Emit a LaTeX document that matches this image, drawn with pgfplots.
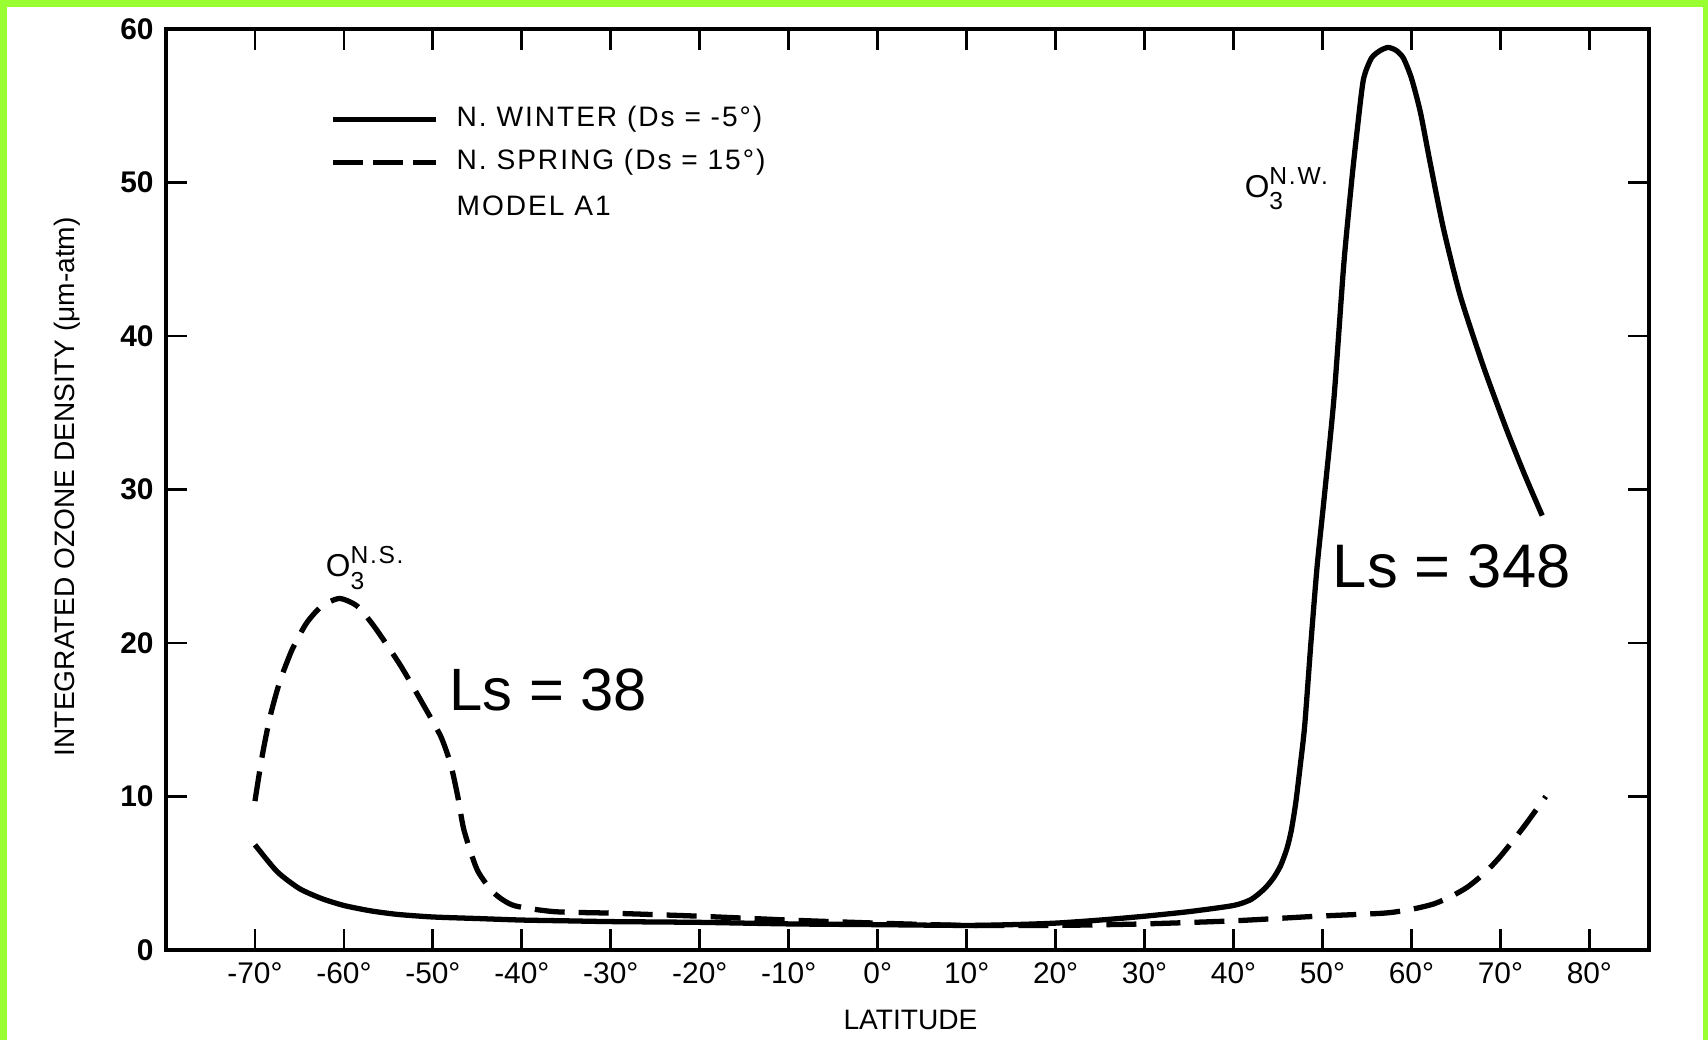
\documentclass[border=0pt]{standalone}
\usepackage{fontspec}
\setmainfont{Liberation Sans}
\newfontfamily\spaced[LetterSpace=7]{Liberation Sans}
\usepackage{pgfplots}
\pgfplotsset{compat=1.18}

\definecolor{framegreen}{RGB}{153,255,51}

\begin{document}
\begin{tikzpicture}
% scanned page background with green frame (left, top, right only)
\fill[white] (-1.66,-0.90) rectangle (15.42,9.50);
\fill[framegreen] (-1.66,-0.90) rectangle (-1.59,9.50);
\fill[framegreen] (-1.66,9.43) rectangle (15.42,9.50);
\fill[framegreen] (15.37,-0.90) rectangle (15.42,9.50);

\begin{axis}[
    at={(0,0)}, anchor=south west,
    scale only axis,
    width=14.83cm, height=9.21cm,
    xmin=-80, xmax=86.7,
    ymin=0, ymax=60,
    axis line style={line width=1.1pt},
    tick align=inside,
    tick pos=both,
    ticklabel pos=left,
    major tick length=0.21cm,
    tick style={line width=0.8pt, black},
    xtick={-70,-60,...,80},
    xticklabels={-70°,-60°,-50°,-40°,-30°,-20°,-10°,0°,10°,20°,30°,40°,50°,60°,70°,80°},
    ytick={0,10,...,60},
    /pgf/number format/assume math mode=true,
    xticklabel style={font=\fontsize{8.5}{9}\selectfont},
    yticklabel style={font=\fontsize{8.5}{9}\selectfont\bfseries},
    xlabel={LATITUDE},
    ylabel={INTEGRATED OZONE DENSITY (μm-atm)},
    label style={font=\fontsize{8}{9}\selectfont},
    xlabel style={at={(axis description cs:0.502,-0.0756)}, anchor=center},
    ylabel style={at={(axis description cs:-0.0664,0.503)}, anchor=center},
    clip=false,
]

% N. winter (Ds = -5 deg)
\addplot[black, line width=1.5pt, smooth, tension=0.4] coordinates {
    (-70,6.85) (-67.5,5.1) (-65,4.0) (-62.5,3.35) (-60,2.9) (-57,2.55) (-54,2.32)
    (-50,2.15) (-45,2.05) (-40,1.95) (-35,1.9) (-30,1.85) (-20,1.8) (-10,1.7)
    (0,1.65) (10,1.6) (15,1.65) (20,1.75) (25,1.95) (30,2.2) (35,2.5) (40,2.9)
    (42,3.3) (43.5,4.0) (44.5,4.7) (45.3,5.5) (46,6.6) (46.5,7.8) (47,9.6)
    (47.5,12) (48,14.6) (48.7,20) (49.4,25) (50.2,29.5) (51.3,36) (52.4,44.7)
    (53.3,50.2) (53.9,53.4) (54.6,56.7) (55.5,58.1) (56.5,58.6) (57.4,58.8)
    (58.3,58.6) (59.1,58.1) (60,56.8) (61,54.6) (62.1,51.3) (63.6,47.0)
    (65.5,42.6) (68.1,38.0) (70.7,33.9) (72.7,31) (74.7,28.3)
};

% N. spring (Ds = 15 deg)
\addplot[black, line width=1.5pt, smooth, tension=0.4, dash pattern=on 0.3cm off 0.14cm] coordinates {
    (-70,9.7) (-69.2,12.6) (-68.3,15.2) (-67.2,17.5) (-65.8,19.6) (-64.2,21.3)
    (-62.5,22.4) (-60.5,22.9) (-58.5,22.4) (-56.5,21.0) (-53.6,18.5) (-51,15.9)
    (-49.1,13.9) (-48,12.1) (-47.2,10) (-46.5,7.8) (-45,5.2) (-43.1,3.7)
    (-40.9,2.9) (-36.4,2.5) (-30,2.4) (-20,2.2) (-10,1.95) (0,1.75) (10,1.6)
    (20,1.6) (30,1.7) (40,1.9) (49.4,2.2) (56.9,2.4) (60,2.65) (62.5,3.0)
    (64.5,3.5) (66.3,4.1) (68.2,5.0) (70,6.1) (72.6,8.0) (75.1,10)
};

% legend, drawn by hand
\draw[black, line width=1.3pt] (axis cs:-61.2,54.1) -- (axis cs:-49.6,54.1);
\draw[black, line width=1.3pt, dash pattern=on 0.3cm off 0.1cm] (axis cs:-61.2,51.3) -- (axis cs:-49.6,51.3);
\begin{scope}[every node/.style={anchor=west, inner sep=0pt, font=\spaced\fontsize{8}{9}\selectfont}]
\node at (axis cs:-47.4,54.1) {N.\ WINTER (Ds = -5°)};
\node at (axis cs:-47.4,51.3) {N.\ SPRING (Ds = 15°)};
\node at (axis cs:-47.4,48.5) {MODEL A1};
\end{scope}

% peak labels
\node[font=\fontsize{9}{10}\selectfont, inner sep=0pt, anchor=west] at (axis cs:-62.1,24.9)
    {O\rlap{\raisebox{-0.75ex}{\fontsize{7}{8}\selectfont 3}}\raisebox{0.8ex}{\spaced\fontsize{7}{8}\selectfont N.S.}};
\node[font=\fontsize{9}{10}\selectfont, inner sep=0pt, anchor=west] at (axis cs:41.2,49.6)
    {O\rlap{\raisebox{-0.75ex}{\fontsize{7}{8}\selectfont 3}}\raisebox{0.8ex}{\spaced\fontsize{7}{8}\selectfont N.W.}};

% Ls annotations
\node[font=\fontsize{17}{19}\selectfont, inner sep=0pt, anchor=base west] at (axis cs:-48.2,15.6) {Ls = 38};
\node[font=\fontsize{17.5}{19}\selectfont, inner sep=0pt, anchor=base west] at (axis cs:51.1,23.6) {Ls = 348};

\end{axis}
\end{tikzpicture}
\end{document}
